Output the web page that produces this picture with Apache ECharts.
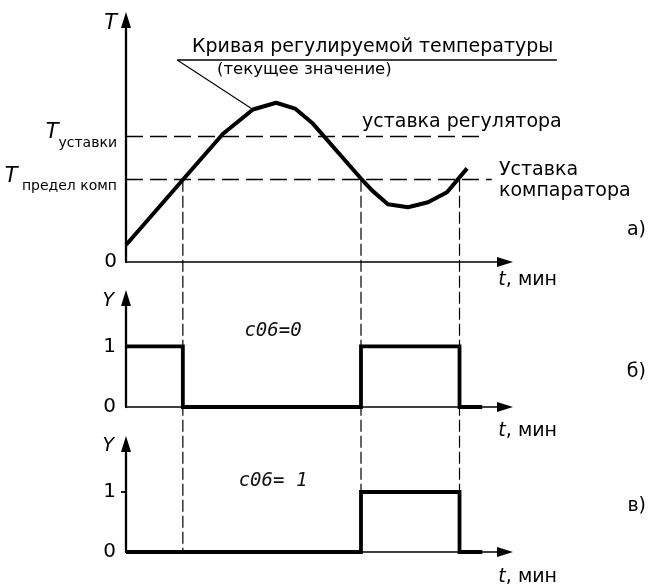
<!DOCTYPE html>
<html>
<head>
<meta charset="utf-8">
<script src="https://cdn.jsdelivr.net/npm/echarts@6/dist/echarts.min.js"></script>
<style>
  html, body { margin: 0; background: #fff; }
  #chart { width: 648px; height: 587px; }
</style>
</head>
<body>
<div id="chart"></div>
<script>
// t in arbitrary units (0..100), T in arbitrary units (0..100)
const curveTime = [0, 15, 25.6, 33.5, 39.6, 44.6, 49.3, 61.7, 64.9, 69.1, 74.4, 79.7, 84.7, 90]
const curveTemp = [7, 34, 53, 63, 65.8, 63.4, 57.2, 35, 29.6, 23.9, 22.6, 24.7, 28.8, 38.7]
const tSetpoint = 52
const tComparator = 34
const setpointEnd = 94
const comparatorEnd = 96.5
const crossings = [15, 62, 88]
const outputC06Zero = [[0, 1], [15, 1], [15, 0], [62, 0], [62, 1], [88, 1], [88, 0], [94, 0]]
const outputC06One = [[0, 0], [62, 0], [62, 1], [88, 1], [88, 0], [94, 0]]
const outputTicks = [0, 1]

const FONT = '"DejaVu Sans", sans-serif'
const BLACK = "#000"

const chart = echarts.init(document.getElementById("chart"), null, { renderer: "canvas" })

const grids = [
  { left: 126, right: 143, top: 20, bottom: 325 },
  { left: 126, right: 143, top: 298, bottom: 180 },
  { left: 126, right: 143, top: 444, bottom: 34 }
]

const axisNameRich = {
  i: { fontFamily: FONT, fontStyle: "italic", fontSize: 19, color: BLACK },
  r: { fontFamily: FONT, fontSize: 19, color: BLACK }
}

function xAxisFor(gridIndex, padTop) {
  return {
    type: "value",
    gridIndex,
    min: 0,
    max: 100,
    axisLine: {
      show: true,
      symbol: ["none", "triangle"],
      symbolSize: [10, 16],
      lineStyle: { color: BLACK, width: 1.7 }
    },
    axisTick: { show: false },
    axisLabel: { show: false },
    splitLine: { show: false },
    name: "{i|t}{r|, мин}",
    nameLocation: "end",
    nameGap: 52,
    nameTextStyle: { align: "right", verticalAlign: "top", padding: [padTop, 0, 0, 0], rich: axisNameRich }
  }
}

function outputYAxis(gridIndex, nameGap, showTick) {
  return {
    type: "value",
    gridIndex,
    min: 0,
    max: 1.8,
    axisLine: {
      show: true,
      symbol: ["none", "triangle"],
      symbolSize: [10, 16],
      lineStyle: { color: BLACK, width: 2.3 }
    },
    axisTick: { show: showTick, customValues: [1], length: 5, lineStyle: { color: BLACK, width: 1.8 } },
    axisLabel: { customValues: outputTicks, margin: 10, fontFamily: FONT, fontSize: 20, color: BLACK },
    splitLine: { show: false },
    name: "Y",
    nameLocation: "end",
    nameGap,
    nameTextStyle: { fontFamily: FONT, fontStyle: "italic", fontSize: 19, color: BLACK, align: "right", verticalAlign: "top", padding: [0, 12, 0, 0] }
  }
}

const dashed = { color: BLACK, width: 1.4, type: [17, 7] }

chart.setOption({
  animation: false,
  backgroundColor: "#fff",
  grid: grids,
  xAxis: [xAxisFor(0, 9), xAxisFor(1, 15), xAxisFor(2, 16)],
  yAxis: [
    {
      type: "value",
      gridIndex: 0,
      min: 0,
      max: 100,
      axisLine: {
        show: true,
        symbol: ["none", "triangle"],
        symbolSize: [10, 16],
        lineStyle: { color: BLACK, width: 2.3 }
      },
      axisTick: { show: false },
      splitLine: { show: false },
      axisLabel: {
        customValues: [0, tComparator, tSetpoint],
        margin: 9,
        formatter: (v) => {
          if (v === 0) return "{n|0}"
          if (v === tSetpoint) return "{T|T}{s|уставки}"
          return "{T|T}{s| предел комп}"
        },
        rich: {
          n: { fontFamily: FONT, fontSize: 20, color: BLACK },
          T: { fontFamily: FONT, fontStyle: "italic", fontSize: 21, color: BLACK, verticalAlign: "bottom", padding: [0, 0, 7, 0] },
          s: { fontFamily: FONT, fontSize: 14, color: BLACK, verticalAlign: "bottom" }
        }
      },
      name: "T",
      nameLocation: "end",
      nameGap: 7,
      nameTextStyle: { fontFamily: FONT, fontStyle: "italic", fontSize: 21, color: BLACK, align: "right", verticalAlign: "top", padding: [0, 9, 0, 0] }
    },
    outputYAxis(1, 6, false),
    outputYAxis(2, 7, true)
  ],
  series: [
    {
      name: "Кривая регулируемой температуры",
      type: "line",
      xAxisIndex: 0,
      yAxisIndex: 0,
      data: curveTime.map((t, i) => [t, curveTemp[i]]),
      symbol: "none",
      lineStyle: { color: BLACK, width: 4, join: "round" },
      z: 5,
      markLine: {
        silent: true,
        symbol: "none",
        label: { show: false },
        lineStyle: dashed,
        data: [
          [{ coord: [0, tSetpoint] }, { coord: [setpointEnd, tSetpoint] }],
          [{ coord: [0, tComparator] }, { coord: [comparatorEnd, tComparator] }]
        ]
      }
    },
    {
      name: "c06=0",
      type: "line",
      xAxisIndex: 1,
      yAxisIndex: 1,
      data: outputC06Zero,
      symbol: "none",
      lineStyle: { color: BLACK, width: 3.8, join: "miter", cap: "butt" },
      z: 5
    },
    {
      name: "c06=1",
      type: "line",
      xAxisIndex: 2,
      yAxisIndex: 2,
      data: outputC06One,
      symbol: "none",
      lineStyle: { color: BLACK, width: 3.8, join: "miter", cap: "butt" },
      z: 5
    }
  ]
})

// vertical guides from the comparator crossings down through the output panels
const graphics = []
crossings.forEach((t) => {
  const from = chart.convertToPixel({ gridIndex: 0 }, [t, tComparator])
  const to = chart.convertToPixel({ gridIndex: 2 }, [t, 0])
  graphics.push({
    type: "line",
    z: 1,
    silent: true,
    shape: { x1: from[0], y1: from[1], x2: to[0], y2: to[1] },
    style: { stroke: BLACK, lineWidth: 1.2, lineDash: [12, 4] }
  })
})

// leader for the curve caption
const capLeft = chart.convertToPixel({ gridIndex: 0 }, [13.5, 83.5])
const capRight = chart.convertToPixel({ gridIndex: 0 }, [113.7, 83.5])
const capTarget = chart.convertToPixel({ gridIndex: 0 }, [curveTime[3], curveTemp[3]])
graphics.push(
  { type: "line", silent: true, shape: { x1: capLeft[0], y1: capLeft[1], x2: capRight[0], y2: capRight[1] }, style: { stroke: BLACK, lineWidth: 1.5 } },
  { type: "line", silent: true, shape: { x1: capLeft[0], y1: capLeft[1], x2: capTarget[0], y2: capTarget[1] }, style: { stroke: BLACK, lineWidth: 1.1 } }
)

function label(text, x, y, size, opts) {
  return {
    type: "text",
    silent: true,
    x,
    y,
    style: Object.assign({
      text,
      fontFamily: FONT,
      fontSize: size,
      fill: BLACK,
      align: "left",
      verticalAlign: "middle"
    }, opts || {})
  }
}

const segFont = { align: "center", fontFamily: '"DejaVu Sans Mono", monospace', fontStyle: "italic", fill: "#111" }
graphics.push(
  label("Кривая регулируемой температуры", 192, 47, 19),
  label("(текущее значение)", 217, 70, 16.5),
  label("уставка регулятора", 362, 122, 19),
  label("Уставка", 499, 170, 19),
  label("компаратора", 499, 191, 19),
  label("а)", 646, 230, 19, { align: "right" }),
  label("б)", 646, 372, 19, { align: "right" }),
  label("в)", 646, 506, 19, { align: "right" }),
  label("c06=0", 273, 331, 19, segFont),
  label("c06= 1", 273, 481, 19, segFont)
)

chart.setOption({ graphic: graphics })

window.addEventListener("resize", () => chart.resize())
</script>
</body>
</html>
